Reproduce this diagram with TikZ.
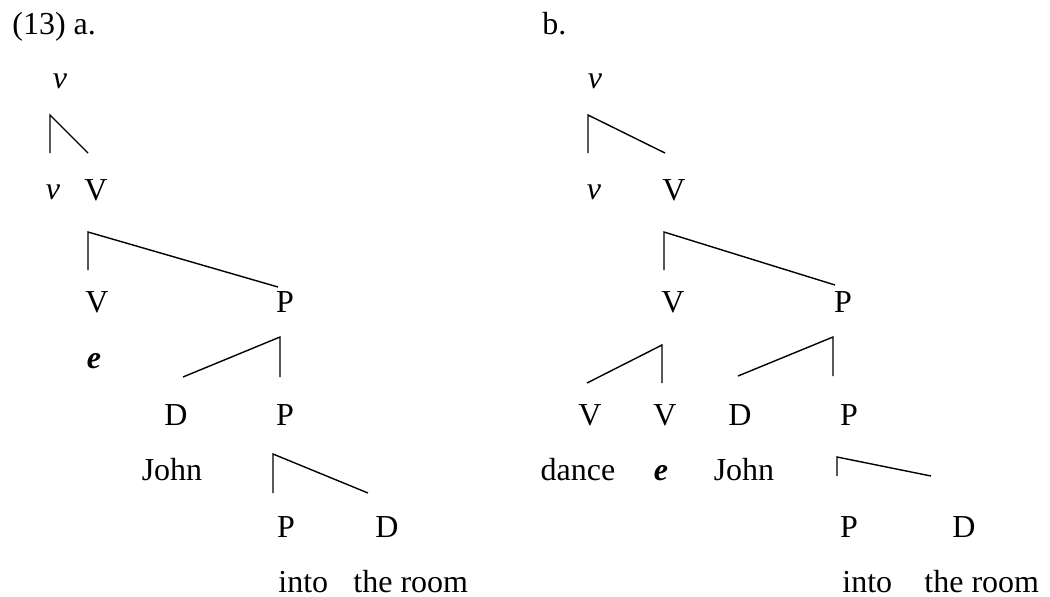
\documentclass[tikz,border=0pt]{standalone}
\usepackage{fontspec}
\setmainfont{Liberation Serif}
\usetikzlibrary{positioning}

\begin{document}
\begin{tikzpicture}[
    x=0.5pt, y=-0.5pt,
    every node/.style={font=\fontsize{16}{19}\selectfont, inner sep=0pt},
    % Category labels: upright, placed on their baseline
    cat/.style={anchor=base},
    % Little v: italic
    lv/.style={anchor=base, font=\fontsize{16}{19}\selectfont\itshape},
    % Empty head: bold italic
    empt/.style={anchor=base, font=\fontsize{16}{19}\selectfont\bfseries\itshape},
    % Words under the tree
    lex/.style={anchor=base},
    % Example numbering
    exlabel/.style={anchor=base west},
    % Branch lines
    branch/.style={line width=0.7pt, line join=miter},
]
\useasboundingbox (0,0) rectangle (1050,596);

% ============================================================
% TREE (a): left
% ============================================================
\node[exlabel] (talbl) at (12,34) {(13) a.};

\node[lv] (tavtop) at (60,88) {v};
\node[lv] (tav) at (53,199) {v};
\node[cat] (taV) at (96,200) {V};

\node[cat] (taVV) at (97,312) {V};
\node[cat] (taP) at (285,312) {P};
\node[empt] (tae) at (94,368) {e};

\node[cat] (taD) at (176,425) {D};
\node[cat] (taPP) at (285,425) {P};
\node[lex] (tajohn) at (172,480) {John};

\node[cat] (taPh) at (286,537) {P};
\node[cat] (taDP) at (387,537) {D};
\node[exlabel] (tainto) at (278,592) {into};
\node[exlabel] (taroom) at (353,592) {the room};

% Branch points (a)
\coordinate (ta1) at (50,115);  \coordinate (ta1l) at (50,153);  \coordinate (ta1r) at (88,153);
\coordinate (ta2) at (88,232);  \coordinate (ta2l) at (88,270);  \coordinate (ta2r) at (278,287);
\coordinate (ta3) at (280,337); \coordinate (ta3l) at (183,377); \coordinate (ta3r) at (280,377);
\coordinate (ta4) at (273,454); \coordinate (ta4l) at (273,493); \coordinate (ta4r) at (368,493);

% Edges (a)
\draw[branch] (ta1l) -- (ta1) -- (ta1r);
\draw[branch] (ta2l) -- (ta2) -- (ta2r);
\draw[branch] (ta3l) -- (ta3) -- (ta3r);
\draw[branch] (ta4l) -- (ta4) -- (ta4r);

% ============================================================
% TREE (b): right
% ============================================================
\node[exlabel] (tblbl) at (542,34) {b.};

\node[lv] (tbvtop) at (595,88) {v};
\node[lv] (tbv) at (594,199) {v};
\node[cat] (tbV) at (674,200) {V};

\node[cat] (tbVV) at (673,312) {V};
\node[cat] (tbP) at (843,312) {P};

\node[cat] (tbVa) at (590,425) {V};
\node[cat] (tbVb) at (665,425) {V};
\node[cat] (tbD) at (740,425) {D};
\node[cat] (tbPP) at (849,425) {P};

\node[lex] (tbdance) at (578,480) {dance};
\node[empt] (tbe) at (661,480) {e};
\node[lex] (tbjohn) at (744,480) {John};

\node[cat] (tbPh) at (849,537) {P};
\node[cat] (tbDP) at (964,537) {D};
\node[exlabel] (tbinto) at (842,592) {into};
\node[exlabel] (tbroom) at (924,592) {the room};

% Branch points (b)
\coordinate (tb1) at (588,115); \coordinate (tb1l) at (588,153); \coordinate (tb1r) at (665,153);
\coordinate (tb2) at (664,232); \coordinate (tb2l) at (664,270); \coordinate (tb2r) at (835,285);
\coordinate (tb3) at (662,345); \coordinate (tb3l) at (587,383); \coordinate (tb3r) at (662,383);
\coordinate (tb4) at (833,337); \coordinate (tb4l) at (738,376); \coordinate (tb4r) at (833,376);
\coordinate (tb5) at (837,457); \coordinate (tb5l) at (837,476); \coordinate (tb5r) at (931,476);

% Edges (b)
\draw[branch] (tb1l) -- (tb1) -- (tb1r);
\draw[branch] (tb2l) -- (tb2) -- (tb2r);
\draw[branch] (tb3l) -- (tb3) -- (tb3r);
\draw[branch] (tb4l) -- (tb4) -- (tb4r);
\draw[branch] (tb5l) -- (tb5) -- (tb5r);

\end{tikzpicture}
\end{document}
